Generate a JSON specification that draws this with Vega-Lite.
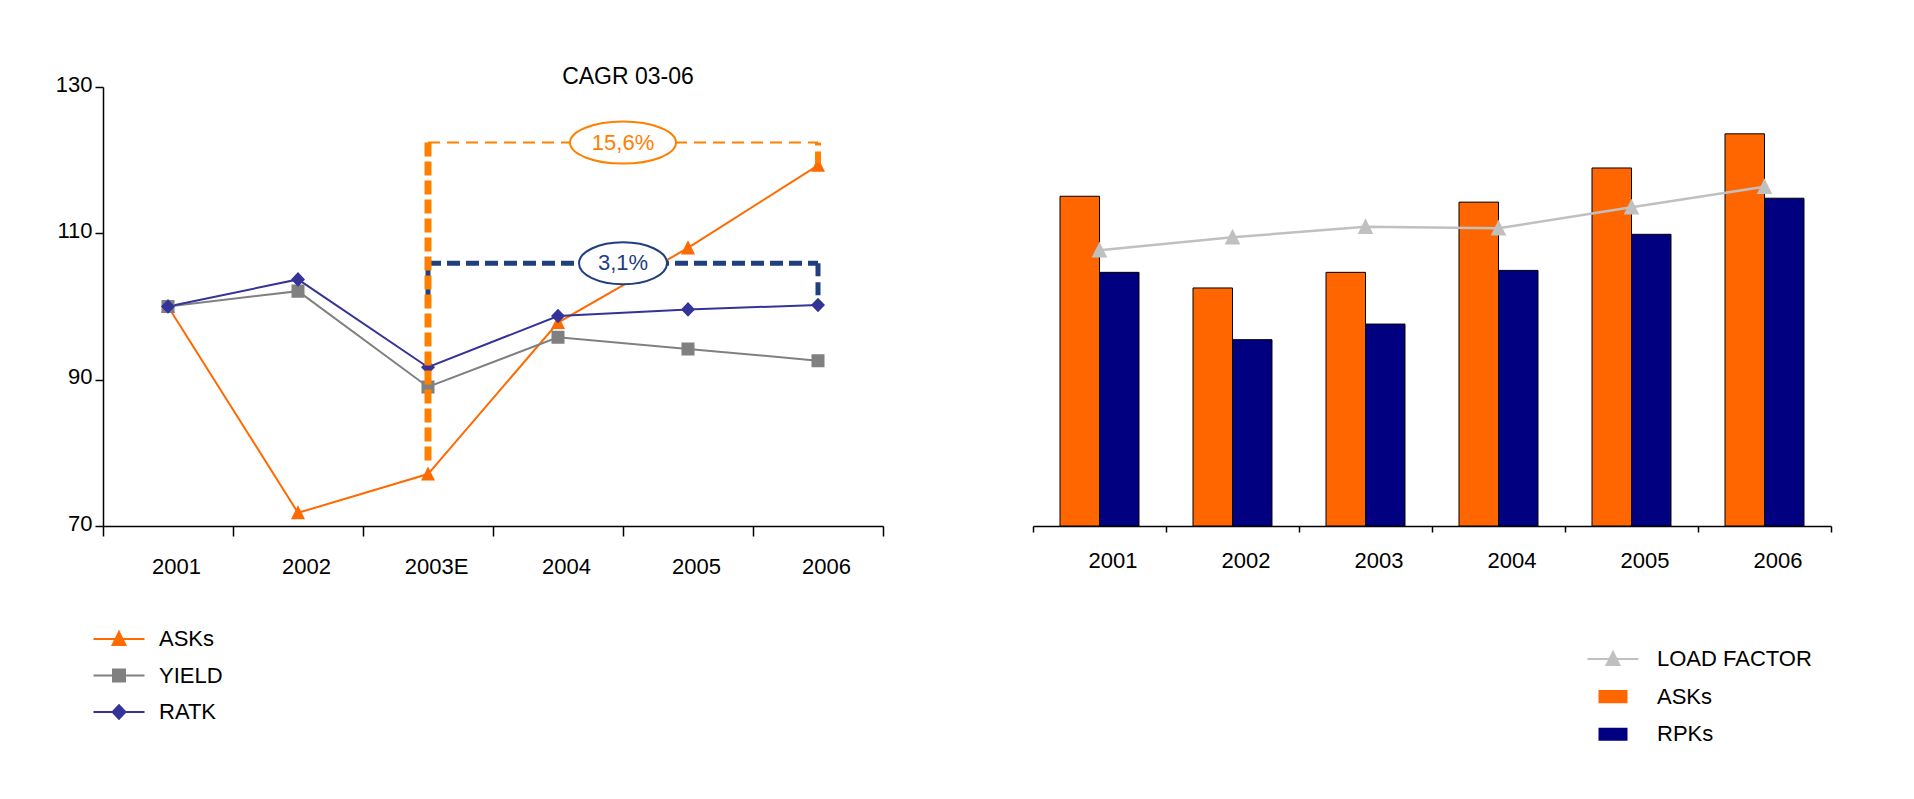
{
  "$schema": "https://vega.github.io/schema/vega-lite/v6.json",
  "background": "white",
  "padding": {"left": 55, "top": 66, "right": 80, "bottom": 40},
  "config": {
    "font": "Liberation Sans",
    "view": {"stroke": null},
    "axis": {
      "labelFont": "Liberation Sans",
      "labelFontSize": 22,
      "labelColor": "black",
      "domainColor": "black",
      "tickColor": "black",
      "domainWidth": 1.5,
      "tickWidth": 1.5,
      "grid": false
    },
    "legend": {
      "labelFont": "Liberation Sans",
      "labelFontSize": 22,
      "labelColor": "black",
      "labelLimit": 400
    },
    "text": {"font": "Liberation Sans"}
  },
  "datasets": {
    "traffic": [
      {"year": "2001", "series": "ASKs", "index": 100},
      {"year": "2002", "series": "ASKs", "index": 71.8},
      {"year": "2003E", "series": "ASKs", "index": 77.1},
      {"year": "2004", "series": "ASKs", "index": 97.8},
      {"year": "2005", "series": "ASKs", "index": 108.0},
      {"year": "2006", "series": "ASKs", "index": 119.3},
      {"year": "2001", "series": "YIELD", "index": 100},
      {"year": "2002", "series": "YIELD", "index": 102.1},
      {"year": "2003E", "series": "YIELD", "index": 89.0},
      {"year": "2004", "series": "YIELD", "index": 95.8},
      {"year": "2005", "series": "YIELD", "index": 94.2},
      {"year": "2006", "series": "YIELD", "index": 92.6},
      {"year": "2001", "series": "RATK", "index": 100},
      {"year": "2002", "series": "RATK", "index": 103.7},
      {"year": "2003E", "series": "RATK", "index": 91.7},
      {"year": "2004", "series": "RATK", "index": 98.7},
      {"year": "2005", "series": "RATK", "index": 99.6},
      {"year": "2006", "series": "RATK", "index": 100.2}
    ],
    "cagr": [
      {"series": "ASKs", "label": "15,6%", "from": "2003E", "to": "2006", "mid": "2004", "top": 122.4, "fromBase": 78.4, "toBase": 119.6},
      {"series": "RATK", "label": "3,1%", "from": "2003E", "to": "2006", "mid": "2004", "top": 105.9, "fromBase": 100.8, "toBase": 100.4}
    ],
    "capacity": [
      {"year": "2001", "metric": "ASKs", "value": 33.8},
      {"year": "2001", "metric": "RPKs", "value": 26.0},
      {"year": "2002", "metric": "ASKs", "value": 24.4},
      {"year": "2002", "metric": "RPKs", "value": 19.1},
      {"year": "2003", "metric": "ASKs", "value": 26.0},
      {"year": "2003", "metric": "RPKs", "value": 20.7},
      {"year": "2004", "metric": "ASKs", "value": 33.2},
      {"year": "2004", "metric": "RPKs", "value": 26.2},
      {"year": "2005", "metric": "ASKs", "value": 36.7},
      {"year": "2005", "metric": "RPKs", "value": 29.9},
      {"year": "2006", "metric": "ASKs", "value": 40.2},
      {"year": "2006", "metric": "RPKs", "value": 33.6}
    ],
    "loadFactor": [
      {"year": "2001", "lf": 76.9},
      {"year": "2002", "lf": 78.25},
      {"year": "2003", "lf": 79.35},
      {"year": "2004", "lf": 79.2},
      {"year": "2005", "lf": 81.4},
      {"year": "2006", "lf": 83.55}
    ]
  },
  "spacing": 150,
  "bounds": "flush",
  "resolve": {
    "scale": {"x": "independent", "y": "independent", "color": "independent", "shape": "independent"},
    "legend": {"color": "independent", "shape": "independent"}
  },
  "hconcat": [
    {
      "width": 780,
      "height": 439,
      "encoding": {
        "x": {
          "type": "ordinal",
          "scale": {"type": "band", "domain": ["2001", "2002", "2003E", "2004", "2005", "2006"], "paddingInner": 0, "paddingOuter": 0},
          "axis": {"tickBand": "extent", "tickSize": 10, "labelPadding": 20, "labelOffset": 8, "labelAngle": 0, "title": null}
        },
        "y": {
          "type": "quantitative",
          "scale": {"domain": [70, 130], "nice": false, "zero": false},
          "axis": {"values": [70, 90, 110, 130], "tickSize": 8, "labelPadding": 3, "labelOffset": -3, "title": null}
        }
      },
      "layer": [
        {
          "data": {"name": "traffic"},
          "encoding": {
            "x": {"field": "year"},
            "y": {"field": "index"},
            "color": {
              "field": "series",
              "type": "nominal",
              "scale": {"domain": ["ASKs", "YIELD", "RATK"], "range": ["#FF6A00", "#808080", "#333399"]},
              "legend": {
                "title": null,
                "orient": "none",
                "legendX": 0,
                "legendY": 536,
                "padding": 0,
                "symbolSize": 900,
                "symbolStrokeWidth": 2,
                "rowPadding": 9.5,
                "labelOffset": 24
              }
            }
          },
          "layer": [
            {"mark": {"type": "line", "strokeWidth": 2}},
            {
              "mark": {"type": "point", "filled": true, "size": 1060, "strokeWidth": 0, "opacity": 1},
              "encoding": {
                "shape": {
                  "field": "series",
                  "type": "nominal",
                  "scale": {
                    "domain": ["ASKs", "YIELD", "RATK"],
                    "range": [
                      "M-1.7,0H1.7M0,-0.47L0.43,0.4L-0.43,0.4Z",
                      "M-1.7,0H1.7M-0.4,-0.4H0.4V0.4H-0.4Z",
                      "M-1.7,0H1.7M0,-0.45L0.43,0L0,0.45L-0.43,0Z"
                    ]
                  },
                  "legend": null
                }
              }
            }
          ]
        },
        {
          "data": {"name": "cagr"},
          "transform": [{"filter": "datum.series === 'RATK'"}],
          "mark": {"type": "rule", "color": "#1F3F7F", "strokeWidth": 5, "strokeDash": [13, 6]},
          "encoding": {"x": {"field": "from"}, "y": {"field": "top"}, "y2": {"field": "fromBase"}}
        },
        {
          "data": {"name": "cagr"},
          "transform": [{"filter": "datum.series === 'RATK'"}],
          "mark": {"type": "rule", "color": "#1F3F7F", "strokeWidth": 5, "strokeDash": [13, 6]},
          "encoding": {"x": {"field": "to"}, "y": {"field": "top"}, "y2": {"field": "toBase"}}
        },
        {
          "data": {"name": "cagr"},
          "transform": [{"filter": "datum.series === 'RATK'"}],
          "mark": {"type": "rule", "color": "#1F3F7F", "strokeWidth": 5, "strokeDash": [13, 6]},
          "encoding": {"x": {"field": "from"}, "x2": {"field": "to"}, "y": {"field": "top"}}
        },
        {
          "data": {"name": "cagr"},
          "transform": [{"filter": "datum.series === 'ASKs'"}],
          "mark": {"type": "rule", "color": "#FF8000", "strokeWidth": 7, "strokeDash": [14, 5]},
          "encoding": {"x": {"field": "from"}, "y": {"field": "top"}, "y2": {"field": "fromBase"}}
        },
        {
          "data": {"name": "cagr"},
          "transform": [{"filter": "datum.series === 'ASKs'"}],
          "mark": {"type": "rule", "color": "#FF8000", "strokeWidth": 6, "strokeDash": [3, 6, 14, 5]},
          "encoding": {"x": {"field": "to"}, "y": {"field": "top"}, "y2": {"field": "toBase"}}
        },
        {
          "data": {"name": "cagr"},
          "transform": [{"filter": "datum.series === 'ASKs'"}],
          "mark": {"type": "rule", "color": "#FF8000", "strokeWidth": 2, "strokeDash": [12, 7]},
          "encoding": {"x": {"field": "from"}, "x2": {"field": "to"}, "y": {"field": "top"}}
        },
        {
          "data": {"name": "cagr"},
          "transform": [{"filter": "datum.series === 'ASKs'"}],
          "mark": {
            "type": "point",
            "filled": true,
            "opacity": 1,
            "fill": "white",
            "stroke": "#FF8000",
            "strokeWidth": 2,
            "size": 11236,
            "shape": "M-1,0C-1,-0.2187,-0.5523,-0.396,0,-0.396C0.5523,-0.396,1,-0.2187,1,0C1,0.2187,0.5523,0.396,0,0.396C-0.5523,0.396,-1,0.2187,-1,0Z"
          },
          "encoding": {"x": {"field": "mid", "bandPosition": 1}, "y": {"field": "top"}}
        },
        {
          "data": {"name": "cagr"},
          "transform": [{"filter": "datum.series === 'RATK'"}],
          "mark": {
            "type": "point",
            "filled": true,
            "opacity": 1,
            "fill": "white",
            "stroke": "#1F3F7F",
            "strokeWidth": 2,
            "size": 7744,
            "shape": "M-1,0C-1,-0.2635,-0.5523,-0.477,0,-0.477C0.5523,-0.477,1,-0.2635,1,0C1,0.2635,0.5523,0.477,0,0.477C-0.5523,0.477,-1,0.2635,-1,0Z"
          },
          "encoding": {"x": {"field": "mid", "bandPosition": 1}, "y": {"field": "top"}}
        },
        {
          "data": {"name": "cagr"},
          "transform": [{"filter": "datum.series === 'ASKs'"}],
          "mark": {"type": "text", "fontSize": 22, "align": "center", "baseline": "middle", "color": "#FF8000"},
          "encoding": {"x": {"field": "mid", "bandPosition": 1}, "y": {"field": "top"}, "text": {"field": "label"}}
        },
        {
          "data": {"name": "cagr"},
          "transform": [{"filter": "datum.series === 'RATK'"}],
          "mark": {"type": "text", "fontSize": 22, "align": "center", "baseline": "middle", "color": "#1F3F7F"},
          "encoding": {"x": {"field": "mid", "bandPosition": 1}, "y": {"field": "top"}, "text": {"field": "label"}}
        },
        {
          "data": {"values": [{}]},
          "mark": {"type": "text", "fontSize": 23, "align": "center", "baseline": "alphabetic", "dx": 5, "color": "black"},
          "encoding": {
            "x": {"datum": "2004", "bandPosition": 1},
            "y": {"datum": 130.4},
            "text": {"value": "CAGR 03-06"}
          }
        }
      ]
    },
    {
      "width": 798,
      "height": 439,
      "resolve": {"scale": {"y": "independent"}},
      "encoding": {
        "x": {
          "field": "year",
          "type": "ordinal",
          "scale": {"type": "band", "domain": ["2001", "2002", "2003", "2004", "2005", "2006"], "paddingInner": 0, "paddingOuter": 0},
          "axis": {"tickBand": "extent", "tickSize": 6, "labelPadding": 18, "labelOffset": 13, "labelAngle": 0, "title": null}
        }
      },
      "layer": [
        {
          "data": {"name": "capacity"},
          "mark": {"type": "bar", "stroke": "black", "strokeWidth": 1},
          "encoding": {
            "xOffset": {"field": "metric", "type": "nominal", "scale": {"domain": ["ASKs", "RPKs"], "paddingInner": 0, "paddingOuter": 0.684}},
            "y": {"field": "value", "type": "quantitative", "scale": {"domain": [0, 45], "nice": false}, "axis": null},
            "color": {
              "field": "metric",
              "type": "nominal",
              "scale": {"domain": ["LOAD FACTOR", "ASKs", "RPKs"], "range": ["#C0C0C0", "#FF6600", "#000080"]},
              "legend": {
                "title": null,
                "orient": "none",
                "legendX": 564,
                "legendY": 556,
                "padding": 0,
                "symbolSize": 900,
                "symbolStrokeWidth": 2,
                "rowPadding": 10.6,
                "labelOffset": 28
              }
            }
          }
        },
        {
          "data": {"name": "loadFactor"},
          "encoding": {
            "y": {"field": "lf", "type": "quantitative", "scale": {"domain": [48, 94], "nice": false, "zero": false}, "axis": null},
            "color": {"datum": "LOAD FACTOR", "type": "nominal"}
          },
          "layer": [
            {"mark": {"type": "line", "strokeWidth": 2.5}},
            {
              "mark": {"type": "point", "filled": true, "size": 1300, "strokeWidth": 0, "opacity": 1},
              "encoding": {
                "shape": {
                  "datum": "LOAD FACTOR",
                  "type": "nominal",
                  "scale": {
                    "domain": ["LOAD FACTOR", "ASKs", "RPKs"],
                    "range": [
                      "M-1.7,0H1.7M0,-0.47L0.43,0.4L-0.43,0.4Z",
                      "M-0.9,-0.37H0.9V0.37H-0.9Z",
                      "M-0.9,-0.37H0.9V0.37H-0.9Z"
                    ]
                  },
                  "legend": null
                }
              }
            }
          ]
        }
      ]
    }
  ]
}
